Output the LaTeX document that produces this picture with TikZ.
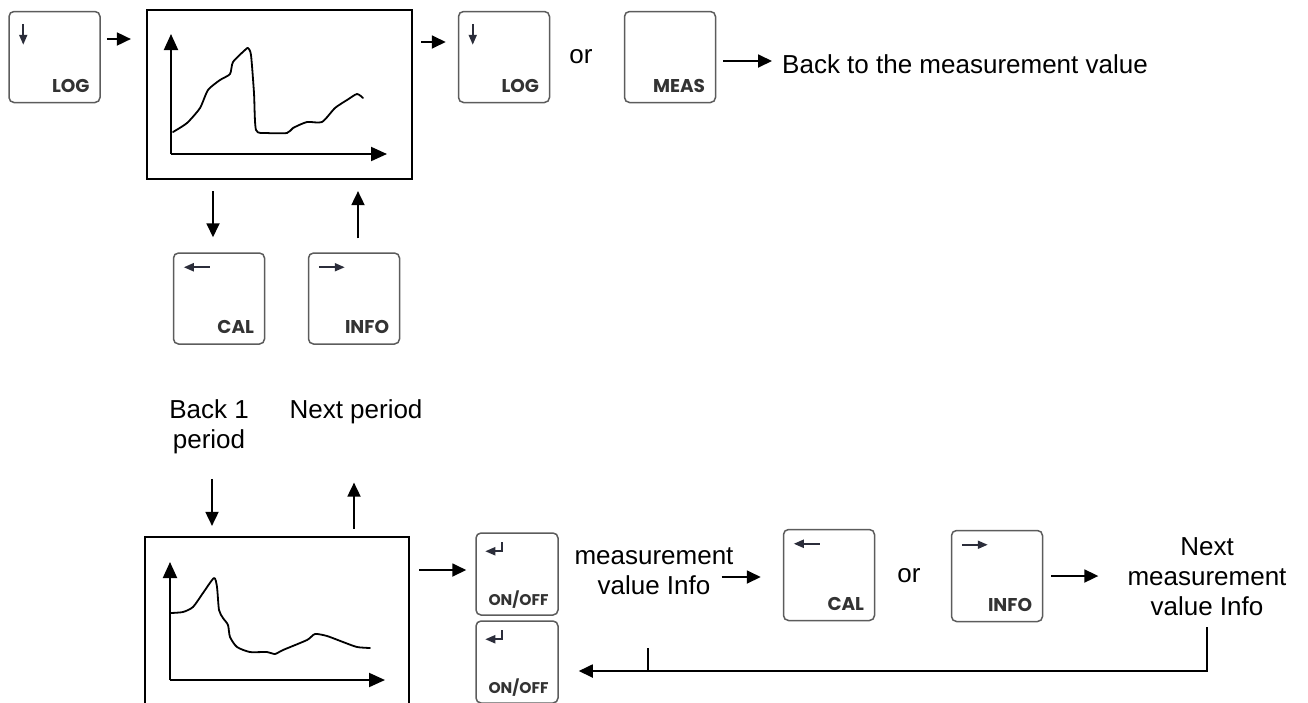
\documentclass[tikz,border=0pt]{standalone}
\usepackage{fontspec}
\setmainfont{Liberation Sans}
\newfontfamily\keyfont{Poppins}
\usetikzlibrary{arrows.meta,calc,positioning}
\definecolor{keygray}{HTML}{5C5C5C}
\definecolor{keyink}{HTML}{2B2D3A}
\definecolor{keylettering}{HTML}{333333}
\tikzstyle{keybox}=[draw=keygray,line width=1.5pt,rounded corners=5pt,minimum width=91pt,minimum height=91pt,inner sep=0pt]
\tikzstyle{onoffkey}=[keybox,minimum width=82pt,minimum height=82pt]
\tikzstyle{keytext}=[anchor=base east,xshift=-11pt,yshift=11pt,inner sep=0pt,text=keylettering,font=\keyfont\bfseries\fontsize{18.5}{20}\selectfont]
\tikzstyle{onofftext}=[anchor=base east,xshift=-10pt,yshift=10pt,inner sep=0pt,text=keylettering,font=\keyfont\bfseries\fontsize{15.5}{17}\selectfont]
\tikzstyle{keysym}=[color=keyink,line width=2pt,-{Triangle[length=10pt,width=8pt]}]
\tikzstyle{flow}=[line width=1.8pt,-{Triangle[length=14pt,width=13pt]}]
\tikzstyle{screen}=[draw,line width=2.2pt,inner sep=0pt]
\tikzstyle{axis}=[line width=2pt,-{Triangle[length=16pt,width=14pt]}]
\tikzstyle{curve}=[line width=1.8pt,line join=round,line cap=round]
\tikzstyle{txt}=[font=\fontsize{26}{30}\selectfont,align=center,inner sep=0pt]

\begin{document}
\begin{tikzpicture}[x=1pt,y=-1pt]
\useasboundingbox (0,0) rectangle (1308,702);
\clip (0,0) rectangle (1308,702);

% keys
\foreach \kname/\kx/\ky/\ktxt in {log1/54.5/57/LOG, log2/504/57/LOG, meas/670/57/MEAS,
    cal1/219/298.5/CAL, info1/354/298.5/INFO, cal2/829/575/CAL, info2/997/576/INFO}
  \node[keybox,label={[keytext]south east:\ktxt}] (\kname) at (\kx,\ky) {};
\foreach \k/\ky in {onoff1/574, onoff2/662}
  \node[onoffkey,label={[onofftext]south east:ON/OFF}] (\k) at (517,\ky) {};

% key symbols
\foreach \k in {log1,log2}
  \draw[keysym] ([shift={(15,13)}]\k.north west) -- ++(0,21);
\foreach \k in {cal1,cal2}
  \draw[keysym] ([shift={(37,15)}]\k.north west) -- ++(-26,0);
\foreach \k in {info1,info2}
  \draw[keysym] ([shift={(11,15)}]\k.north west) -- ++(26,0);
\foreach \k in {onoff1,onoff2}
  \draw[keysym] ([shift={(27,10)}]\k.north west) |- ++(-17,9);

% screens
\node[screen,minimum width=265pt,minimum height=169pt] (plot1) at (279.5,94.5) {};
\node[screen,minimum width=264pt,minimum height=178pt] (plot2) at (277,626) {};
\coordinate (o1) at (171,154);
\draw[axis] (o1) -- ++(0,-120);
\draw[axis] (o1) -- ++(216,0);
\draw[curve] plot[smooth,tension=0.4] coordinates {(173,132) (187,123) (200,108) (208,90)
  (220,80) (230,74) (233,62) (245,50) (248,48) (251,55) (254,93) (256,130) (267,133)
  (287,133) (293,128) (307,122) (322,122) (335,108) (347,100) (357,94) (363,98)};
\coordinate (o2) at (170,680);
\draw[axis] (o2) -- ++(0,-118);
\draw[axis] (o2) -- ++(215,0);
\draw[curve] plot[smooth,tension=0.4] coordinates {(171,613) (183,612) (193,607) (203,593)
  (214,578) (217,587) (219,610) (223,618) (228,625) (230,637) (237,647) (250,652)
  (267,652) (275,654) (283,650) (307,640) (315,634) (327,636) (343,642) (357,647) (370,648)};

% texts
\node[txt,anchor=base] (or1) at (581,63) {or};
\node[txt,anchor=west] (backmeas) at (782,64) {Back to the measurement value};
\node[txt] (back) at (209,426.5) {Back 1\\period};
\node[txt,anchor=base] (next) at (356,418) {Next period};
\node[txt] (mvinfo) at (654,571) {measurement\\value Info};
\node[txt,anchor=base] (or2) at (909,582) {or};
\node[txt] (nextinfo) at (1207,577) {Next\\measurement\\value Info};

% connectors
\draw[flow,shorten <=6pt,shorten >=15pt] ($(log1.east)+(0,-18)$) -- ($(log1.east -| plot1.west)+(0,-18)$);
\draw[flow,shorten <=8pt,shorten >=12pt] ($(log2.west -| plot1.east)+(0,-15)$) -- ($(log2.west)+(0,-15)$);
\draw[flow,shorten <=7pt,shorten >=10pt] ($(meas.east |- backmeas.west)+(0,-3)$) -- ($(backmeas.west)+(0,-3)$);
\draw[flow,shorten <=11pt,shorten >=15pt] ($(cal1.north |- plot1.south)+(-6,0)$) -- ($(cal1.north)+(-6,0)$);
\draw[flow,shorten <=14pt,shorten >=11pt] ($(info1.north)+(4,0)$) -- ($(info1.north |- plot1.south)+(4,0)$);
\draw[flow,shorten <=25pt,shorten >=10pt] ($(back.south)+(3,0)$) -- ($(back.south |- plot2.north)+(3,0)$);
\draw[flow,shorten <=7pt,shorten >=59pt] ($(next.south |- plot2.north)+(-2,0)$) -- ($(next.south)+(-2,0)$);
\draw[flow,shorten <=9pt,shorten >=9pt] ($(plot2.east |- onoff1.west)+(0,-4)$) -- ($(onoff1.west)+(0,-4)$);
\draw[flow,shorten >=10pt] ([xshift=-12pt,yshift=-6pt]mvinfo.east) -- ([xshift=-12pt,yshift=-6pt]mvinfo.east -| cal2.west);
\draw[flow,shorten <=8pt,shorten >=29pt] (info2.east) -- (info2.east -| nextinfo.west);
\draw[flow,shorten <=11pt,shorten >=20pt] (nextinfo.south) |- ([yshift=-9pt]onoff2.east);
\coordinate (tick) at (648,671);
\draw[line width=1.5pt] (tick) -- ++(0,-23);
\end{tikzpicture}
\end{document}
